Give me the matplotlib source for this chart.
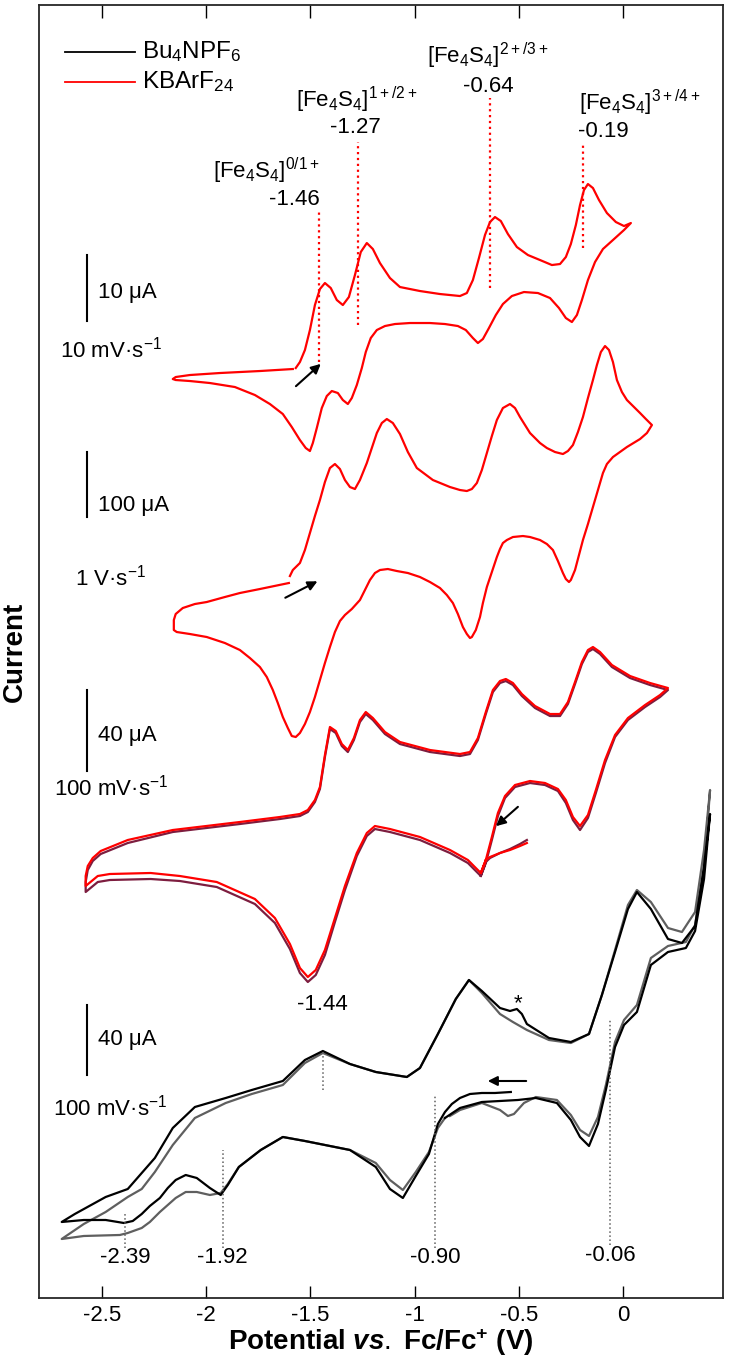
import matplotlib
matplotlib.use('Agg')
import matplotlib.pyplot as plt

plt.rcParams['font.family'] = ['Liberation Sans', 'DejaVu Sans']
plt.rcParams['mathtext.fontset'] = 'custom'
plt.rcParams['mathtext.rm'] = 'Liberation Sans'
plt.rcParams['mathtext.it'] = 'Liberation Sans:italic:bold'
plt.rcParams['mathtext.bf'] = 'Liberation Sans:bold'
plt.rcParams['axes.unicode_minus'] = False

RED = '#ff0000'
MAROON = '#7d1d3f'
GRAY = '#5f5f5f'

# ---- data: potential (V vs Fc/Fc+) and current (arb. units, traces stacked) ----
# KBArF24, 10 mV/s
p1_E = [-1.570, -1.550, -1.526, -1.502, -1.478, -1.454, -1.430, -1.402, -1.373, -1.344,
        -1.315, -1.286, -1.258, -1.229, -1.200, -1.166, -1.118, -1.070, -0.974, -0.878,
        -0.782, -0.749, -0.720, -0.691, -0.662, -0.638, -0.614, -0.586, -0.552, -0.509,
        -0.456, -0.398, -0.341, -0.302, -0.274, -0.250, -0.226, -0.206, -0.187, -0.168,
        -0.144, -0.115, -0.077, -0.034, 0.005, 0.038,
        0.005, -0.048, -0.096, -0.134, -0.168, -0.197, -0.221, -0.245, -0.274, -0.307,
        -0.350, -0.408, -0.475, -0.533, -0.576, -0.610, -0.643, -0.672, -0.696, -0.720,
        -0.754, -0.792, -0.854, -0.926, -1.022, -1.094, -1.142, -1.181, -1.210, -1.234,
        -1.253, -1.277, -1.301, -1.320, -1.344, -1.368, -1.397, -1.421, -1.445, -1.469,
        -1.488, -1.502, -1.522, -1.550, -1.589, -1.632, -1.694, -1.766, -1.862, -1.982,
        -2.078, -2.146, -2.160, -2.146, -2.078, -1.934, -1.742, -1.584]
p1_I = [908, 914, 926, 946, 971, 987, 993, 988, 976, 971,
        979, 1001, 1024, 1033, 1027, 1013, 998, 989, 985, 982,
        980, 983, 996, 1018, 1041, 1054, 1059, 1055, 1042, 1029,
        1021, 1016, 1011, 1012, 1019, 1032, 1051, 1071, 1086, 1092,
        1088, 1076, 1063, 1054, 1050, 1053,
        1046, 1036, 1027, 1014, 996, 976, 961, 954, 958, 968,
        978, 983, 984, 980, 972, 961, 948, 937, 933, 938,
        946, 950, 952, 953, 953, 952, 950, 946, 938, 924,
        908, 891, 878, 872, 876, 883, 885, 880, 868, 848,
        833, 825, 828, 836, 849, 862, 872, 881, 889, 893,
        895, 896, 897, 899, 901, 903, 905, 907]

# KBArF24, 1 V/s
p2_E = [-1.598, -1.584, -1.550, -1.526, -1.502, -1.478, -1.454, -1.430, -1.406, -1.382,
        -1.358, -1.334, -1.310, -1.286, -1.262, -1.229, -1.205, -1.181, -1.157, -1.133,
        -1.104, -1.070, -1.032, -0.989, -0.912, -0.830, -0.782, -0.749, -0.725, -0.701,
        -0.677, -0.653, -0.629, -0.605, -0.576, -0.542, -0.518, -0.494, -0.446, -0.398,
        -0.365, -0.326, -0.288, -0.264, -0.240, -0.216, -0.192, -0.168, -0.144, -0.125,
        -0.106, -0.086, -0.067, -0.048, -0.029, -0.005, 0.019, 0.053, 0.082, 0.110, 0.139,
        0.115, 0.082, 0.019, -0.048, -0.077, -0.096, -0.120, -0.144, -0.168, -0.192,
        -0.211, -0.230, -0.250, -0.259, -0.274, -0.288, -0.312, -0.336, -0.365, -0.398,
        -0.446, -0.480, -0.528, -0.557, -0.576, -0.590, -0.605, -0.629, -0.653, -0.672,
        -0.686, -0.706, -0.725, -0.734, -0.749, -0.768, -0.792, -0.816, -0.845, -0.878,
        -0.926, -0.974, -1.032, -1.085, -1.128, -1.166, -1.190, -1.214, -1.238, -1.262,
        -1.301, -1.334, -1.358, -1.382, -1.406, -1.430, -1.454, -1.478, -1.502, -1.526,
        -1.550, -1.570, -1.589, -1.608, -1.632, -1.656, -1.680, -1.709, -1.742, -1.790,
        -1.838, -1.910, -1.997, -2.078, -2.141, -2.155,
        -2.155, -2.146, -2.112, -2.054, -1.997, -1.910, -1.838, -1.742, -1.603]
p2_I = [700, 706, 713, 726, 743, 760, 776, 794, 808, 812,
        807, 796, 789, 787, 796, 813, 828, 843, 853, 857,
        853, 842, 824, 808, 796, 789, 786, 785, 787, 793,
        806, 823, 840, 856, 868, 872, 868, 859, 843, 833,
        828, 824, 822, 825, 831, 844, 859, 878, 896, 911,
        924, 930, 926, 914, 896, 884, 876, 869, 863, 857, 851,
        843, 837, 829, 819, 812, 803, 786, 769, 752, 736,
        721, 706, 696, 694, 697, 703, 715, 726, 732, 736,
        739, 740, 739, 736, 733, 727, 719, 704, 689, 673,
        659, 646, 639, 638, 642, 649, 662, 673, 681, 688,
        694, 699, 703, 705, 707, 706, 703, 696, 686, 676,
        667, 661, 655, 644, 629, 613, 596, 579, 564, 552,
        543, 539, 540, 548, 559, 573, 586, 599, 609, 618,
        626, 633, 639, 642, 644, 646,
        656, 662, 668, 672, 674, 679, 683, 687, 693]

# KBArF24, 100 mV/s: two cycles (red, maroon)
p3_E = [-0.658, -0.682, -0.706, -0.744, -0.830, -0.974, -1.118, -1.190, -1.229, -1.277,
        -1.334, -1.382, -1.430, -1.474, -1.512, -1.550, -1.598, -1.670, -1.766, -1.949,
        -2.126, -2.266, -2.462, -2.520, -2.578,
        -2.578, -2.568, -2.544, -2.506, -2.376, -2.160, -1.838, -1.646, -1.550, -1.512,
        -1.478, -1.454, -1.430, -1.406, -1.378, -1.349, -1.320, -1.291, -1.262, -1.234,
        -1.200, -1.142, -1.070, -0.926, -0.782, -0.734, -0.696, -0.658, -0.624, -0.590,
        -0.562, -0.528, -0.485, -0.422, -0.350, -0.302, -0.264, -0.230, -0.197, -0.168,
        -0.144, -0.110, -0.053, 0.034, 0.130, 0.216,
        0.178, 0.106, 0.024, -0.038, -0.086, -0.130, -0.168, -0.206, -0.240, -0.274,
        -0.312, -0.374, -0.446, -0.518, -0.566, -0.600, -0.629, -0.658, -0.682]
p3a_I = [416, 403, 408, 416, 426, 439, 447, 450, 443, 423,
         390, 358, 326, 306, 299, 308, 332, 358, 377, 394,
         400, 403, 402, 400, 390,
         400, 410, 418, 425, 436, 446, 454, 459, 462, 466,
         476, 489, 521, 549, 545, 532, 526, 538, 556, 564,
         558, 544, 534, 526, 522, 524, 538, 564, 586, 595,
         597, 593, 582, 570, 562, 562, 574, 594, 614, 626,
         629, 624, 611, 600, 593, 588,
         581, 571, 558, 541, 516, 486, 461, 450, 459, 476,
         487, 493, 495, 491, 480, 463, 439, 416, 403]
p3b_I = [414, 400, 405, 413, 423, 436, 444, 447, 440, 420,
         386, 354, 321, 301, 294, 303, 327, 353, 372, 389,
         395, 397, 396, 394, 384,
         394, 406, 415, 422, 433, 444, 452, 457, 460, 464,
         474, 487, 519, 547, 543, 530, 524, 536, 554, 562,
         556, 542, 532, 524, 520, 522, 536, 562, 584, 593,
         595, 591, 580, 568, 560, 560, 572, 592, 612, 624,
         627, 622, 609, 598, 591, 586,
         579, 569, 556, 539, 513, 483, 458, 446, 456, 473,
         485, 491, 493, 489, 478, 460, 436, 413, 400]
p3s_E = [-0.461, -0.494, -0.542, -0.590, -0.638, -0.658]
p3sa_I = [433, 430, 426, 423, 419, 416]
p3sb_I = [436, 432, 427, 423, 418, 414]

# Bu4NPF6, 100 mV/s: first cycle (black), second cycle (gray)
p4a_E = [-0.538, -0.614, -0.677, -0.734, -0.782, -0.821, -0.854, -0.888, -0.931, -0.994,
         -1.056, -1.118, -1.186, -1.310, -1.526, -1.632, -1.738, -1.843, -1.896, -1.930,
         -1.982, -2.045, -2.098, -2.146, -2.184, -2.222, -2.270, -2.309, -2.352, -2.395,
         -2.482, -2.587, -2.693,
         -2.630, -2.482, -2.376, -2.246, -2.160, -2.054, -1.906, -1.781, -1.632, -1.526,
         -1.440, -1.310, -1.186, -1.037, -0.974, -0.888, -0.802, -0.739, -0.677, -0.590,
         -0.542, -0.509, -0.485, -0.461, -0.355, -0.250, -0.163, -0.101, -0.038, 0.024,
         0.067, 0.134, 0.216, 0.283, 0.346, 0.389, 0.418,
         0.389, 0.346, 0.302, 0.216, 0.134, 0.067, 0.005, -0.038, -0.082, -0.120,
         -0.163, -0.206, -0.250, -0.317, -0.418, -0.504, -0.590, -0.677, -0.782, -0.854]
p4a_I = [184, 183, 183, 182, 178, 172, 164, 152, 122, 100,
         78, 87, 109, 126, 135, 139, 126, 109, 91, 81,
         88, 98, 101, 96, 88, 78, 70, 62, 55, 53,
         56, 56, 54,
         62, 79, 87, 118, 148, 169, 178, 186, 195, 216,
         225, 212, 204, 199, 208, 242, 277, 296, 285, 268,
         265, 267, 262, 252, 238, 234, 242, 281, 324, 367,
         384, 367, 337, 333, 350, 410, 462,
         397, 345, 328, 324, 311, 264, 251, 229, 186, 152,
         130, 139, 156, 173, 178, 176, 175, 174, 168, 158]
p4b_E = [-0.854, -0.888, -0.931, -0.994, -1.056, -1.118, -1.186, -1.310, -1.526, -1.632,
         -1.738, -1.843, -1.896, -1.930, -1.982, -2.045, -2.098, -2.146, -2.184, -2.222,
         -2.270, -2.309, -2.376, -2.414, -2.587, -2.693,
         -2.587, -2.482, -2.376, -2.309, -2.246, -2.160, -2.054, -1.906, -1.781, -1.632,
         -1.526, -1.440, -1.310, -1.186, -1.037, -0.974, -0.888, -0.802, -0.739, -0.677,
         -0.590, -0.528, -0.461, -0.355, -0.250, -0.163, -0.101, -0.038, 0.024, 0.067,
         0.134, 0.216, 0.283, 0.346, 0.389, 0.418,
         0.389, 0.346, 0.302, 0.216, 0.134, 0.067, 0.005, -0.038, -0.082, -0.120,
         -0.163, -0.206, -0.250, -0.317, -0.418, -0.475, -0.523, -0.552, -0.590, -0.677,
         -0.782, -0.830]
p4b_I = [158, 148, 124, 104, 86, 96, 113, 126, 135, 139,
         126, 109, 92, 83, 81, 84, 84, 78, 71, 64,
         54, 48, 43, 41, 40, 37,
         52, 64, 79, 87, 104, 131, 158, 173, 182, 191,
         213, 223, 212, 204, 199, 208, 242, 277, 296, 283,
         262, 254, 246, 236, 233, 242, 281, 326, 371, 386,
         374, 348, 344, 364, 426, 486,
         406, 351, 334, 330, 318, 271, 256, 234, 191, 159,
         140, 146, 161, 176, 179, 173, 162, 160, 166, 173,
         166, 160]

# half-wave potentials marked in the figure
e_half_k = [-1.46, -1.27, -0.64, -0.19]
e_half_n = [-2.39, -1.92, -1.44, -0.90, -0.06]

fig = plt.figure(figsize=(7.3, 13.61), dpi=100)
ax = fig.add_axes([0.0534, 0.0463, 0.9370, 0.9500])

lw = 1.6
ax.plot(p1_E, p1_I, color=RED, lw=lw)
ax.plot(p2_E, p2_I, color=RED, lw=lw)
ax.plot(p3_E, p3b_I, color=MAROON, lw=lw)
ax.plot(p3s_E, p3sb_I, color=MAROON, lw=lw)
ax.plot(p3_E, p3a_I, color=RED, lw=lw)
ax.plot(p3s_E, p3sa_I, color=RED, lw=lw)
ax.plot(p4b_E, p4b_I, color=GRAY, lw=lw)
ax.plot(p4a_E, p4a_I, color='black', lw=lw)

# dotted E1/2 markers, KBArF24
k_top = [1064, 1134, 1178, 1134]
k_bot = [914, 951, 988, 1028]
for e, t, b in zip(e_half_k, k_top, k_bot):
    ax.plot([e, e], [b, t], color=RED, ls=':', lw=1.6)

fs = 16
lab = r'[Fe$_4$S$_4$]$^{%s}$'
ax.text(-1.454, 1098, lab % '0/1+', ha='right', va='baseline', fontsize=fs)
ax.text(-1.454, 1071, '-1.46', ha='right', va='baseline', fontsize=fs)
ax.text(-1.277, 1169, lab % '1+/2+', ha='center', va='baseline', fontsize=fs)
ax.text(-1.282, 1143, '-1.27', ha='center', va='baseline', fontsize=fs)
ax.text(-0.648, 1213, lab % '2+/3+', ha='center', va='baseline', fontsize=fs)
ax.text(-0.648, 1184, '-0.64', ha='center', va='baseline', fontsize=fs)
ax.text(-0.211, 1166, lab % '3+/4+', ha='left', va='baseline', fontsize=fs)
ax.text(-0.216, 1139, '-0.19', ha='left', va='baseline', fontsize=fs)

# dotted E1/2 markers, Bu4NPF6
n_top = [62, 126, 225, 180, 257]
n_bot = [28, 28, 186, 28, 31]
for e, t, b in zip(e_half_n, n_top, n_bot):
    ax.plot([e, e], [b, t], color=GRAY, ls=':', lw=1.1)
for e, y in zip([-2.39, -1.92, -0.90, -0.06], [18, 18, 18, 20]):
    ax.text(e, y, '%.2f' % e, ha='center', va='center', fontsize=fs)
ax.text(-1.44, 271, '-1.44', ha='center', va='center', fontsize=fs)
ax.text(-0.504, 272, '*', ha='center', va='center', fontsize=fs)

# scale bars
bars = [(1021, 955, '10 μA', 984, r'10 mV·s$^{-1}$', 926, -2.701),
        (824, 759, '100 μA', 771, r'1 V·s$^{-1}$', 698, -2.630),
        (586, 505, '40 μA', 541, r'100 mV·s$^{-1}$', 488, -2.730),
        (271, 201, '40 μA', 236, r'100 mV·s$^{-1}$', 168, -2.735)]
for top, bot, ilab, iy, slab, sy, sx in bars:
    ax.plot([-2.572, -2.572], [bot, top], color='black', lw=1.5)
    ax.text(-2.519, iy, ilab, ha='left', va='center', fontsize=fs)
    ax.text(sx, sy, slab, ha='left', va='center', fontsize=fs)

# scan direction arrows
arr = dict(arrowstyle='-|>', color='black', lw=1.5, mutation_scale=14)
ax.annotate('', xy=(-1.440, 914), xytext=(-1.579, 888), arrowprops=arr)
ax.annotate('', xy=(-1.454, 696), xytext=(-1.632, 677), arrowprops=arr)
ax.annotate('', xy=(-0.619, 448), xytext=(-0.494, 471), arrowprops=arr)
ax.annotate('', xy=(-0.662, 195), xytext=(-0.451, 195), arrowprops=arr)

# legend
ax.plot([-2.678, -2.341], [1224, 1224], color='black', lw=1.3)
ax.plot([-2.678, -2.341], [1194, 1194], color=RED, lw=1.3)
ax.text(-2.308, 1224, r'Bu$_4$NPF$_6$', ha='left', va='center', fontsize=17.5)
ax.text(-2.308, 1194, r'KBArF$_{24}$', ha='left', va='center', fontsize=17.5)

ax.set_xlim(-2.802, 0.480)
ax.set_ylim(-22, 1271)
ax.set_xticks([-2.5, -2, -1.5, -1, -0.5, 0])
ax.set_xticklabels(['-2.5', '-2', '-1.5', '-1', '-0.5', '0'], fontsize=16)
ax.set_yticks([])
ax.tick_params(axis='x', direction='in', top=True, length=9, width=1, pad=5)
for s in ax.spines.values():
    s.set_linewidth(1.3)
    s.set_color('#262626')
ax.set_xlabel(r'Potential $\mathit{vs.}\;$Fc/Fc$^{\mathbf{+}}$ (V)', fontsize=20,
              fontweight='bold', labelpad=0)
ax.set_ylabel('Current', fontsize=20, fontweight='bold', labelpad=8)

fig.savefig('out.png', dpi=100)
